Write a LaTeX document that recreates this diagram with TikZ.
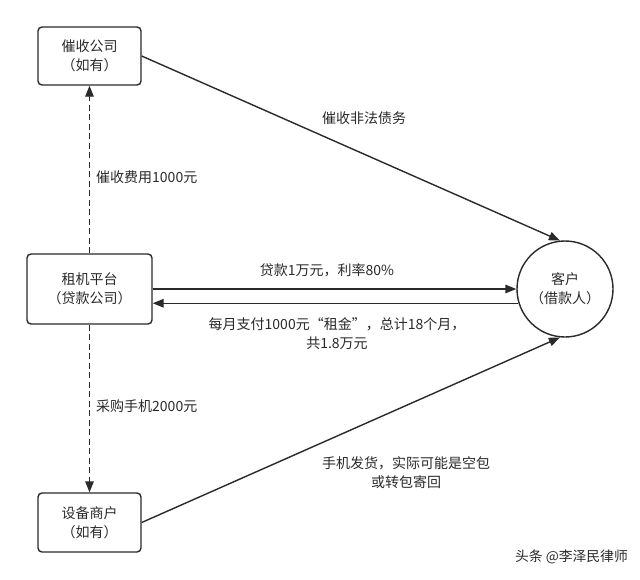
\documentclass[tikz,border=0pt]{standalone}
\usepackage{fontspec}
\setmainfont{Noto Sans CJK SC}
\usetikzlibrary{arrows.meta,calc}
\definecolor{ink}{HTML}{2A2A2A}
\begin{document}
\begin{tikzpicture}[x=1pt,y=-1pt,
  every node/.style={text=ink, font=\fontsize{14}{19}\selectfont},
  box/.style={draw=ink, line width=1.4pt, rounded corners=4pt, align=center, inner sep=0pt},
  client/.style={draw=ink, line width=1.4pt, circle, align=center, inner sep=0pt, minimum size=96pt},
  conn/.style={draw=ink, line width=1.4pt, -{Triangle[length=11pt,width=8.5pt]}},
  dashconn/.style={conn, dash pattern=on 6pt off 3.5pt},
  lbl/.style={align=center, inner sep=1pt}
]
\useasboundingbox (0,0) rectangle (640,579);
\fill[white] (0,0) rectangle (640,579);

\node[box, minimum width=103pt, minimum height=58pt] (coll) at (89.5,56) {催收公司\\（如有）};
\node[box, minimum width=125pt, minimum height=70pt] (plat) at (89.5,289) {租机平台\\（贷款公司）};
\node[box, minimum width=103pt, minimum height=59pt] (merch) at (89.5,522.5) {设备商户\\（如有）};
\node[client] (cust) at (565,289) {客户\\（借款人）};

% connectors
\draw[conn] (coll.east) -- (cust.96);
\draw[dashconn] (plat.north) -- (coll.south);
\draw[dashconn] (plat.south) -- (merch.north);
\draw[conn] (plat.east) -- (cust.west);
\draw[conn] (cust.197) -- (plat.east |- cust.197);
\draw[conn] (merch.east) -- (cust.264);

% labels
\node[lbl] (l1) at (364,118) {催收非法债务};
\node[lbl, anchor=west] (l2) at (95,177) {催收费用1000元};
\node[lbl, anchor=west] (l3) at (95,406) {采购手机2000元};
\node[lbl] (l4) at (327,270) {贷款1万元，利率80\%};
\node[lbl] (l5) at (337,334) {每月支付1000元“租金”，总计18个月，\\共1.8万元};
\node[lbl] (l6) at (406,473) {手机发货，实际可能是空包\\或转包寄回};
\node[lbl, anchor=east, font=\fontsize{13.8}{17}\selectfont] (wm) at (629,557) {头条 @李泽民律师};
\end{tikzpicture}
\end{document}
